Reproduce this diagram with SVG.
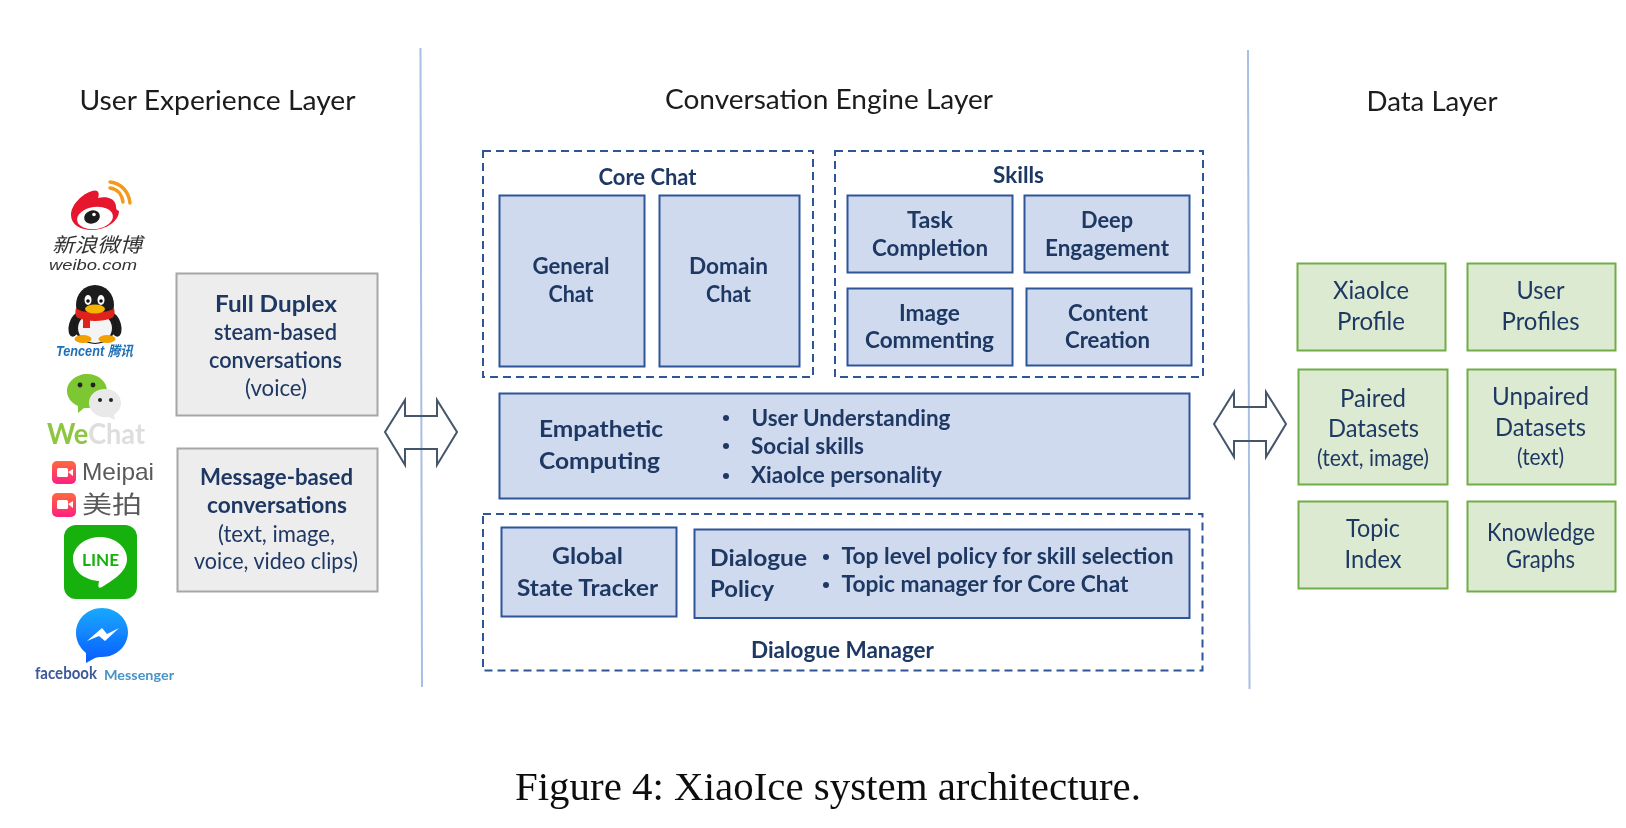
<svg xmlns="http://www.w3.org/2000/svg" width="1626" height="828" viewBox="0 0 1626 828">
<style>
text{font-family:"Lato","Liberation Sans",sans-serif;fill:#1f3864;text-anchor:middle}
.b{font-weight:700;font-size:23px}
.r{font-size:23px}
.h{font-size:27px;fill:#1a1a1a}
.d{font-size:25px}
.l{text-anchor:start}
.box{fill:#cfdaee;stroke:#2f5597;stroke-width:2}
.dash{fill:none;stroke:#2f5597;stroke-width:2;stroke-dasharray:8 5}
.gray{fill:#ededed;stroke:#a6a6a6;stroke-width:2}
.green{fill:#dbead0;stroke:#70ad47;stroke-width:2}
.div{stroke:#a9bee3;stroke-width:2;fill:none}
.arrow{fill:none;stroke:#44546a;stroke-width:2}
.dot{fill:#1f3864}
</style>
<defs>
<linearGradient id="ms" x1="0" y1="0" x2="0" y2="1"><stop offset="0" stop-color="#19aaff"/><stop offset="1" stop-color="#0a5bff"/></linearGradient>
<linearGradient id="mp" x1="0" y1="0" x2="0" y2="1"><stop offset="0" stop-color="#ff6a3c"/><stop offset="1" stop-color="#ff1f80"/></linearGradient>
<filter id="soft" filterUnits="userSpaceOnUse" x="0" y="0" width="1626" height="828"><feGaussianBlur stdDeviation="0.55"/></filter>
</defs>
<rect width="1626" height="828" fill="#fff"/>
<g filter="url(#soft)">

<g id="connectors">
<line class="div" x1="420.500" y1="48" x2="422" y2="687"/>
<line class="div" x1="1248" y1="50" x2="1249.500" y2="689"/>
<path class="arrow" d="M385 432L405 400V416H437V400L457 432L437 465V449H405V465Z"/>
<path class="arrow" d="M1214 424L1234 392V407H1266V392L1286 424L1266 457V441H1234V457Z"/>
</g>

<g id="title-user-experience"><text class="h" x="217.500" y="110" textLength="276" lengthAdjust="spacingAndGlyphs">User Experience Layer</text></g>
<g id="title-conversation-engine"><text class="h" x="829" y="109" textLength="328" lengthAdjust="spacingAndGlyphs">Conversation Engine Layer</text></g>
<g id="title-data"><text class="h" x="1432" y="111" textLength="131" lengthAdjust="spacingAndGlyphs">Data Layer</text></g>

<g id="icon-weibo">
<path d="M110 188c7 1 12 6 13 14" fill="none" stroke="#f39a1d" stroke-width="3.400" stroke-linecap="round"/>
<path d="M110 182c11 1 19 10 20 21" fill="none" stroke="#f39a1d" stroke-width="3.400" stroke-linecap="round"/>
<path d="M71 215c0-10 11-21 21-24c6-2 8 2 6 7c8-2 17 0 18 8c0 2 0 4 3 5c0 10-13 19-27 19c-11 0-21-5-21-15z" fill="#e6162d"/>
<ellipse cx="95" cy="218" rx="18" ry="11" fill="#fff" transform="rotate(-8 95 218)"/>
<ellipse cx="92" cy="217" rx="8" ry="6.500" fill="#1a1a1a" transform="rotate(-20 92 217)"/>
<circle cx="94" cy="214.500" r="1.800" fill="#fff"/>
<text x="97" y="251.500" font-size="20" font-style="italic" style="font-family:'Liberation Sans','Noto Sans CJK SC',sans-serif;fill:#333" textLength="90" lengthAdjust="spacingAndGlyphs">新浪微博</text>
<text x="93" y="270" font-size="15.500" font-style="italic" style="font-family:'Liberation Sans',sans-serif;fill:#333" textLength="88" lengthAdjust="spacingAndGlyphs">weibo.com</text>
</g>

<g id="icon-tencent">
<ellipse cx="75" cy="325" rx="6" ry="12" fill="#1a1a1a" transform="rotate(15 75 325)"/>
<ellipse cx="115" cy="325" rx="6" ry="12" fill="#1a1a1a" transform="rotate(-15 115 325)"/>
<ellipse cx="95" cy="305" rx="19" ry="20" fill="#1a1a1a"/>
<ellipse cx="95" cy="325" rx="21" ry="19" fill="#1a1a1a"/>
<ellipse cx="95" cy="328" rx="17" ry="15" fill="#f4f4f4"/>
<ellipse cx="88" cy="300" rx="3.500" ry="5" fill="#fff"/><ellipse cx="101" cy="300" rx="3.500" ry="5" fill="#fff"/>
<circle cx="88" cy="301" r="1.800" fill="#111"/><circle cx="101" cy="301" r="1.800" fill="#111"/>
<path d="M76 308c6 6 32 6 38 0c1 5 1 8-2 10c-10 4-24 4-34 0c-3-2-3-5-2-10z" fill="#e0201b"/>
<rect x="83" y="316" width="7" height="12" fill="#e0201b"/>
<ellipse cx="95" cy="309" rx="10" ry="4.500" fill="#f5b400"/>
<ellipse cx="83" cy="339" rx="8.500" ry="4" fill="#f2a100"/><ellipse cx="107" cy="339" rx="8.500" ry="4" fill="#f2a100"/>
<text x="94.500" y="356" font-size="14" font-style="italic" font-weight="700" style="font-family:'Liberation Sans','Noto Sans CJK SC',sans-serif;fill:#1e6fb5" textLength="77" lengthAdjust="spacingAndGlyphs">Tencent 腾讯</text>
</g>

<g id="icon-wechat">
<path d="M87 374c12 0 20 8 20 17c0 10-9 17-20 17l-3 0l-6 5l0-7c-7-3-11-9-11-15c0-9 9-17 20-17z" fill="#7cc733"/>
<circle cx="80" cy="385" r="2.400" fill="#222"/><circle cx="93" cy="385" r="2.400" fill="#222"/>
<path d="M105 389c9 0 16 6 16 14c0 5-3 9-7 12l1 5l-6-3c-10 2-20-5-20-14c0-8 7-14 16-14z" fill="#e9e9e9"/>
<circle cx="100" cy="400" r="2" fill="#222"/><circle cx="111" cy="400" r="2" fill="#222"/>
<text x="96" y="444" font-size="29" font-weight="700" style="fill:#8dc63f" textLength="98" lengthAdjust="spacingAndGlyphs">We<tspan style="fill:#dedede">Chat</tspan></text>
</g>

<g id="icon-meipai">
<rect x="52" y="461" width="24" height="23" rx="5" fill="url(#mp)"/>
<rect x="57" y="468" width="11" height="9" rx="1.500" fill="#fff"/><path d="M68 472l5-3v7z" fill="#fff"/>
<text x="118" y="480" font-size="24" style="font-family:'Liberation Sans',sans-serif;fill:#5a5a5a" textLength="72" lengthAdjust="spacingAndGlyphs">Meipai</text>
<rect x="52" y="493" width="24" height="24" rx="5" fill="url(#mp)"/>
<rect x="57" y="500" width="11" height="9" rx="1.500" fill="#fff"/><path d="M68 504l5-3v7z" fill="#fff"/>
<text x="112" y="513" font-size="24" style="font-family:'Liberation Sans','Noto Sans CJK SC',sans-serif;fill:#5a5a5a" textLength="60" lengthAdjust="spacingAndGlyphs">美拍</text>
</g>

<g id="icon-line">
<rect x="64" y="525" width="73" height="74" rx="12" fill="#16b10a"/>
<path d="M100 537c15 0 27 10 27 22c0 13-14 21-25 28c-4 2-4-1-3-6c-15-1-26-10-26-22c0-12 12-22 27-22z" fill="#fff"/>
<text x="100.500" y="566" font-size="17" font-weight="700" style="fill:#16b10a" textLength="37" lengthAdjust="spacingAndGlyphs">LINE</text>
</g>

<g id="icon-messenger">
<path d="M102 608c14.500 0 26 11 26 24c0 14-11.500 25-26 25c-3 0-5 0-7 1l-9 5v-10c-6-5-10-12-10-20c0-14 11.500-25 26-25z" fill="url(#ms)"/>
<path d="M87 641l15-13l5 6l12-6l-14 13l-6-5z" fill="#fff"/>
<text x="66" y="679" font-size="17" font-weight="700" style="fill:#3b5998" textLength="62" lengthAdjust="spacingAndGlyphs">facebook</text>
<text x="139" y="680" font-size="14" font-weight="700" style="fill:#4a93c6" textLength="70" lengthAdjust="spacingAndGlyphs">Messenger</text>
</g>

<g id="node-full-duplex">
<rect class="gray" x="176.500" y="273.500" width="201" height="142"/>
<text class="b" x="276" y="312" textLength="122" lengthAdjust="spacingAndGlyphs" font-size="24">Full Duplex</text>
<text class="r" x="275.500" y="340" font-weight="600" textLength="123" lengthAdjust="spacingAndGlyphs">steam-based</text>
<text class="r" x="275.500" y="368" font-weight="600" textLength="133" lengthAdjust="spacingAndGlyphs">conversations</text>
<text class="r" x="276" y="396" textLength="62" lengthAdjust="spacingAndGlyphs">(voice)</text>
</g>
<g id="node-message-based">
<rect class="gray" x="177.500" y="448.500" width="200" height="143"/>
<text class="b" x="276.500" y="485" textLength="153" lengthAdjust="spacingAndGlyphs">Message-based</text>
<text class="b" x="277" y="513" textLength="140" lengthAdjust="spacingAndGlyphs">conversations</text>
<text class="r" x="276.500" y="541.500" textLength="117" lengthAdjust="spacingAndGlyphs">(text, image,</text>
<text class="r" x="276" y="569" textLength="164" lengthAdjust="spacingAndGlyphs">voice, video clips)</text>
</g>

<g id="group-core-chat">
<rect class="dash" x="483" y="151" width="330" height="226"/>
<text class="b" x="647.500" y="185" textLength="98" lengthAdjust="spacingAndGlyphs">Core Chat</text>
</g>
<g id="node-general-chat">
<rect class="box" x="499.500" y="195.500" width="145" height="171"/>
<text class="b" x="571" y="274" textLength="77" lengthAdjust="spacingAndGlyphs">General</text>
<text class="b" x="571" y="302" textLength="45" lengthAdjust="spacingAndGlyphs">Chat</text>
</g>
<g id="node-domain-chat">
<rect class="box" x="659.500" y="195.500" width="140" height="171"/>
<text class="b" x="728.500" y="274" textLength="79" lengthAdjust="spacingAndGlyphs">Domain</text>
<text class="b" x="728.500" y="302" textLength="45" lengthAdjust="spacingAndGlyphs">Chat</text>
</g>

<g id="group-skills">
<rect class="dash" x="835" y="151" width="368" height="226"/>
<text class="b" x="1018.500" y="183" textLength="51" lengthAdjust="spacingAndGlyphs">Skills</text>
</g>
<g id="node-task-completion">
<rect class="box" x="847.500" y="195.500" width="165" height="77"/>
<text class="b" x="930" y="228" textLength="46" lengthAdjust="spacingAndGlyphs">Task</text>
<text class="b" x="930" y="256" textLength="116" lengthAdjust="spacingAndGlyphs">Completion</text>
</g>
<g id="node-deep-engagement">
<rect class="box" x="1024.500" y="195.500" width="165" height="77"/>
<text class="b" x="1107" y="228" textLength="52" lengthAdjust="spacingAndGlyphs">Deep</text>
<text class="b" x="1107" y="256" textLength="124" lengthAdjust="spacingAndGlyphs">Engagement</text>
</g>
<g id="node-image-commenting">
<rect class="box" x="847.500" y="288.500" width="165" height="77"/>
<text class="b" x="929.500" y="321" textLength="61" lengthAdjust="spacingAndGlyphs">Image</text>
<text class="b" x="929.500" y="348" textLength="129" lengthAdjust="spacingAndGlyphs">Commenting</text>
</g>
<g id="node-content-creation">
<rect class="box" x="1026.500" y="288.500" width="165" height="77"/>
<text class="b" x="1108" y="321" textLength="80" lengthAdjust="spacingAndGlyphs">Content</text>
<text class="b" x="1107.500" y="348" textLength="85" lengthAdjust="spacingAndGlyphs">Creation</text>
</g>

<g id="node-empathetic-computing">
<rect class="box" x="499.500" y="393.500" width="690" height="105"/>
<text class="b l" x="539" y="437" font-size="25" textLength="124" lengthAdjust="spacingAndGlyphs">Empathetic</text>
<text class="b l" x="539" y="469" font-size="25" textLength="121" lengthAdjust="spacingAndGlyphs">Computing</text>
<circle class="dot" cx="726" cy="418" r="3"/><circle class="dot" cx="726" cy="446" r="3"/><circle class="dot" cx="726" cy="476" r="3"/>
<text class="b l" x="751.500" y="426" textLength="199" lengthAdjust="spacingAndGlyphs">User Understanding</text>
<text class="b l" x="751" y="454" textLength="113" lengthAdjust="spacingAndGlyphs">Social skills</text>
<text class="b l" x="751" y="483" textLength="191" lengthAdjust="spacingAndGlyphs">XiaoIce personality</text>
</g>

<g id="group-dialogue-manager">
<rect class="dash" x="483" y="514" width="719.500" height="156.500"/>
<text class="b" x="842.500" y="658" textLength="183" lengthAdjust="spacingAndGlyphs">Dialogue Manager</text>
</g>
<g id="node-global-state-tracker">
<rect class="box" x="501.500" y="527.500" width="175" height="89"/>
<text class="b" x="587.500" y="564" font-size="25" textLength="71" lengthAdjust="spacingAndGlyphs">Global</text>
<text class="b" x="587.500" y="596" font-size="25" textLength="141" lengthAdjust="spacingAndGlyphs">State Tracker</text>
</g>
<g id="node-dialogue-policy">
<rect class="box" x="694.500" y="529.500" width="495" height="88.500"/>
<text class="b l" x="710" y="566" font-size="25" textLength="97" lengthAdjust="spacingAndGlyphs">Dialogue</text>
<text class="b l" x="710" y="597" font-size="25" textLength="64" lengthAdjust="spacingAndGlyphs">Policy</text>
<circle class="dot" cx="826" cy="557" r="3"/><circle class="dot" cx="826" cy="585" r="3"/>
<text class="b l" x="841.500" y="564" textLength="332" lengthAdjust="spacingAndGlyphs">Top level policy for skill selection</text>
<text class="b l" x="841.500" y="592" textLength="287" lengthAdjust="spacingAndGlyphs">Topic manager for Core Chat</text>
</g>

<g id="node-xiaoice-profile">
<rect class="green" x="1297.500" y="263.500" width="148" height="87"/>
<text class="d" x="1371" y="299" textLength="76" lengthAdjust="spacingAndGlyphs">XiaoIce</text>
<text class="d" x="1371" y="330" textLength="68" lengthAdjust="spacingAndGlyphs">Profile</text>
</g>
<g id="node-user-profiles">
<rect class="green" x="1467.500" y="263.500" width="148" height="87"/>
<text class="d" x="1540.500" y="299" textLength="48" lengthAdjust="spacingAndGlyphs">User</text>
<text class="d" x="1540.500" y="330" textLength="78" lengthAdjust="spacingAndGlyphs">Profiles</text>
</g>
<g id="node-paired-datasets">
<rect class="green" x="1298.500" y="369.500" width="149" height="115"/>
<text class="d" x="1373" y="406.500" textLength="66" lengthAdjust="spacingAndGlyphs">Paired</text>
<text class="d" x="1373.500" y="436.500" textLength="91" lengthAdjust="spacingAndGlyphs">Datasets</text>
<text class="r" x="1373" y="466" font-size="20" textLength="112" lengthAdjust="spacingAndGlyphs">(text, image)</text>
</g>
<g id="node-unpaired-datasets">
<rect class="green" x="1467.500" y="369.500" width="148" height="115"/>
<text class="d" x="1540.500" y="405" textLength="97" lengthAdjust="spacingAndGlyphs">Unpaired</text>
<text class="d" x="1540.500" y="436" textLength="91" lengthAdjust="spacingAndGlyphs">Datasets</text>
<text class="r" x="1540.500" y="465" font-size="20" textLength="47" lengthAdjust="spacingAndGlyphs">(text)</text>
</g>
<g id="node-topic-index">
<rect class="green" x="1298.500" y="501.500" width="149" height="87"/>
<text class="d" x="1373" y="537" textLength="54" lengthAdjust="spacingAndGlyphs">Topic</text>
<text class="d" x="1373" y="568" textLength="57" lengthAdjust="spacingAndGlyphs">Index</text>
</g>
<g id="node-knowledge-graphs">
<rect class="green" x="1467.500" y="501.500" width="148" height="90"/>
<text class="d" x="1541" y="540.500" font-size="23" textLength="108" lengthAdjust="spacingAndGlyphs">Knowledge</text>
<text class="d" x="1540.500" y="568" font-size="23" textLength="69" lengthAdjust="spacingAndGlyphs">Graphs</text>
</g>

<g id="caption"><text x="828" y="800" font-size="39" style="font-family:'Liberation Serif',serif;fill:#111" textLength="626" lengthAdjust="spacingAndGlyphs">Figure 4: XiaoIce system architecture.</text></g>
</g>
</svg>
